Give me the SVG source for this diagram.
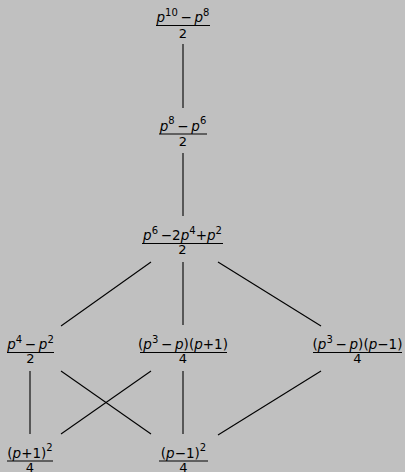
<svg xmlns="http://www.w3.org/2000/svg" width="405" height="472" viewBox="0 0 405 472">
<style>
text{font-family:"DejaVu Sans","Liberation Sans",sans-serif;font-size:13.5px;fill:#000;text-anchor:middle}
.d{font-size:13px}
.p{font-style:italic}
.s{font-size:10px}
.bar{stroke:#000;stroke-width:1.1}
.e{stroke:#000;stroke-width:1.1;fill:none}
</style>
<rect width="405" height="472" fill="#c0c0c0"/>
<g id="connectors">
<line class="e" x1="183" y1="44" x2="183" y2="108"/>
<line class="e" x1="183" y1="153" x2="183" y2="216"/>
<line class="e" x1="151" y1="262" x2="61" y2="326"/>
<line class="e" x1="183" y1="262" x2="183" y2="325"/>
<line class="e" x1="218" y1="262" x2="321" y2="326"/>
<line class="e" x1="30" y1="371" x2="30" y2="434"/>
<line class="e" x1="61" y1="371" x2="151" y2="434"/>
<line class="e" x1="151" y1="371" x2="61" y2="434"/>
<line class="e" x1="183" y1="371" x2="183" y2="434"/>
<line class="e" x1="321" y1="371" x2="218" y2="435"/>
</g>
<g id="n1">
<text x="183" y="22"><tspan class="p">p</tspan><tspan class="s" dy="-6.5">10</tspan><tspan dy="6.5">&#8201;−&#8201;</tspan><tspan class="p">p</tspan><tspan class="s" dy="-6.5">8</tspan></text>
<line class="bar" x1="156" y1="25.5" x2="210" y2="25.5"/>
<text class="d" x="183" y="37.5">2</text>
</g>
<g id="n2">
<text x="183" y="130.5"><tspan class="p">p</tspan><tspan class="s" dy="-6.5">8</tspan><tspan dy="6.5">&#8201;−&#8201;</tspan><tspan class="p">p</tspan><tspan class="s" dy="-6.5">6</tspan></text>
<line class="bar" x1="159" y1="134" x2="207" y2="134"/>
<text class="d" x="183" y="146">2</text>
</g>
<g id="n3">
<text x="182.5" y="240"><tspan class="p">p</tspan><tspan class="s" dy="-6.5">6</tspan><tspan dy="6.5">&#8201;−2</tspan><tspan class="p">p</tspan><tspan class="s" dy="-6.5">4</tspan><tspan dy="6.5">+</tspan><tspan class="p">p</tspan><tspan class="s" dy="-6.5">2</tspan></text>
<line class="bar" x1="142" y1="243.5" x2="223" y2="243.5"/>
<text class="d" x="182.5" y="253.5">2</text>
</g>
<g id="n4">
<text x="30.5" y="349"><tspan class="p">p</tspan><tspan class="s" dy="-6.5">4</tspan><tspan dy="6.5">&#8201;−&#8201;</tspan><tspan class="p">p</tspan><tspan class="s" dy="-6.5">2</tspan></text>
<line class="bar" x1="7" y1="352.5" x2="54" y2="352.5"/>
<text class="d" x="30.5" y="362.5">2</text>
</g>
<g id="n5">
<text x="183" y="349">(<tspan class="p">p</tspan><tspan class="s" dy="-6.5">3</tspan><tspan dy="6.5">&#8201;−&#8201;</tspan><tspan class="p">p</tspan>)(<tspan class="p">p</tspan>+1)</text>
<line class="bar" x1="140" y1="352.5" x2="227" y2="352.5"/>
<text class="d" x="183" y="363">4</text>
</g>
<g id="n6">
<text x="357.5" y="349">(<tspan class="p">p</tspan><tspan class="s" dy="-6.5">3</tspan><tspan dy="6.5">&#8201;−&#8201;</tspan><tspan class="p">p</tspan>)(<tspan class="p">p</tspan>−1)</text>
<line class="bar" x1="313" y1="352.5" x2="402" y2="352.5"/>
<text class="d" x="357.5" y="363">4</text>
</g>
<g id="n7">
<text x="30" y="457.5">(<tspan class="p">p</tspan>+1)<tspan class="s" dy="-6.5">2</tspan></text>
<line class="bar" x1="7" y1="461" x2="53" y2="461"/>
<text class="d" x="30" y="471.5">4</text>
</g>
<g id="n8">
<text x="183.5" y="457.5">(<tspan class="p">p</tspan>−1)<tspan class="s" dy="-6.5">2</tspan></text>
<line class="bar" x1="159" y1="461" x2="208" y2="461"/>
<text class="d" x="183.5" y="471.5">4</text>
</g>
</svg>
